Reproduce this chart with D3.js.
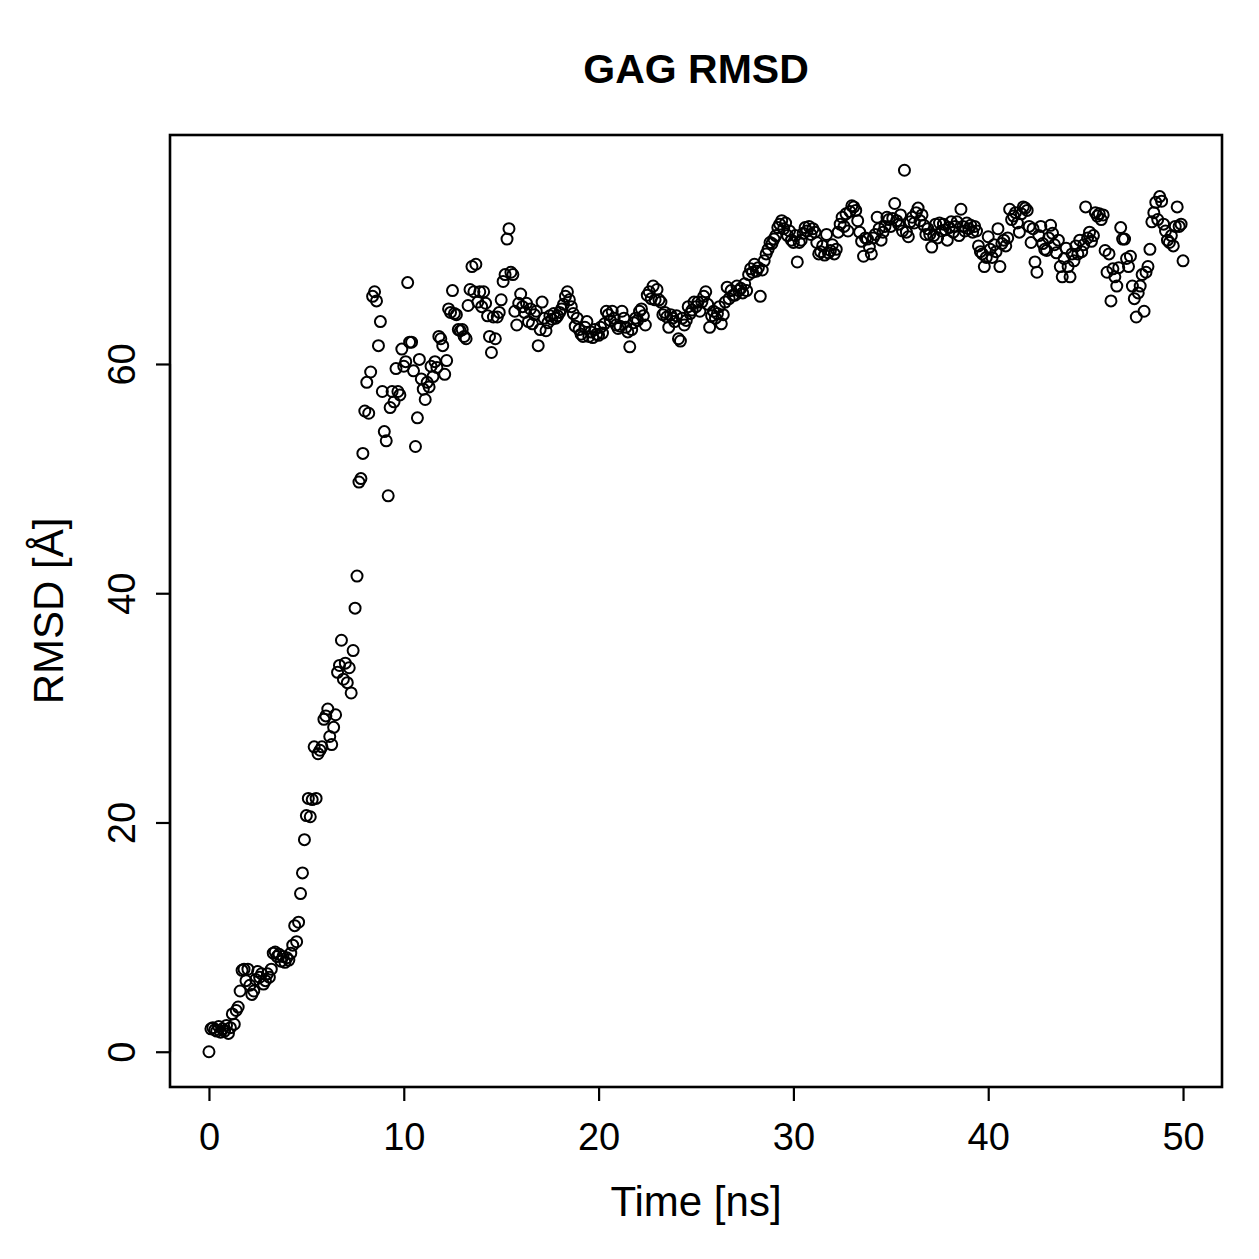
<!DOCTYPE html>
<html>
<head>
<meta charset="utf-8">
<script src="https://cdn.jsdelivr.net/npm/d3@7"></script>
<style>
  html, body { margin: 0; padding: 0; background: #fff; }
  text { font-family: "Liberation Sans", Arial, Helvetica, sans-serif; fill: #000; }
</style>
</head>
<body>
<div id="Area"></div>
<script>
var width = 1259;
var height = 1259;

var chartTitle = "GAG RMSD";
var xLabel = "Time [ns]";
var yLabel = "RMSD [Å]";
var xTicks = [0, 10, 20, 30, 40, 50];
var yTicks = [0, 20, 40, 60];

// one frame every 0.1 ns, first frame at t = 0
var frameStep = 0.1;

// RMSD values, one row per nanosecond (10 frames each)
var rmsd = [
    0.0, 2.0, 2.1, 1.9, 1.8, 2.2, 1.7, 2.0, 1.8, 2.3,
    1.6, 2.1, 3.3, 2.4, 3.6, 3.9, 5.3, 7.1, 7.2, 6.2,
    7.2, 5.8, 5.0, 5.3, 6.3, 7.0, 6.5, 6.8, 5.9, 6.2,
    6.8, 6.5, 7.2, 8.6, 8.7, 8.3, 8.5, 7.9, 8.3, 7.8,
    8.2, 8.0, 8.6, 9.3, 11.0, 9.6, 11.3, 13.8, 15.6, 18.5,
    20.6, 22.1, 20.5, 22.0, 26.6, 22.1, 26.0, 26.3, 26.6, 29.0,
    29.3, 29.9, 27.5, 26.8, 28.3, 29.4, 33.1, 33.7, 35.9, 32.5,
    33.9, 32.2, 33.5, 31.3, 35.0, 38.7, 41.5, 49.7, 50.0, 52.2,
    55.9, 58.4, 55.7, 59.3, 65.9, 66.3, 65.5, 61.6, 63.7, 57.6,
    54.1, 53.3, 48.5, 56.2, 57.6, 56.7, 59.6, 57.6, 57.3, 61.3,
    59.8, 60.2, 67.1, 61.9, 61.9, 59.4, 52.8, 55.3, 60.4, 58.7,
    57.8, 56.9, 58.4, 58.0, 59.8, 58.9, 60.2, 59.7, 62.4, 62.2,
    61.6, 59.1, 60.3, 64.8, 64.5, 66.4, 64.4, 64.3, 63.0, 62.9,
    63.0, 62.4, 62.2, 65.1, 66.5, 68.5, 66.3, 68.7, 65.4, 66.3,
    65.0, 66.3, 65.3, 64.2, 62.4, 61.0, 64.1, 62.2, 64.1, 64.5,
    65.6, 67.2, 67.8, 70.9, 71.8, 68.0, 67.8, 64.6, 63.4, 65.3,
    66.1, 65.0, 64.5, 65.3, 63.7, 64.8, 63.5, 64.3, 64.6, 61.6,
    63.0, 65.4, 64.0, 62.9, 63.6, 64.2, 63.9, 64.4, 64.0, 64.2,
    64.5, 64.8, 65.2, 65.9, 66.3, 65.6, 65.0, 64.4, 63.3, 64.0,
    63.0, 62.6, 62.4, 63.2, 63.7, 62.4, 62.8, 62.3, 63.0, 62.6,
    62.5, 63.2, 62.7, 63.5, 64.6, 64.3, 63.8, 64.6, 64.0, 63.4,
    63.1, 63.3, 64.6, 64.0, 63.2, 62.8, 61.5, 63.0, 63.6, 64.0,
    63.8, 64.6, 64.8, 64.2, 63.4, 66.0, 66.3, 65.7, 66.8, 65.6,
    66.5, 65.6, 65.4, 64.3, 64.5, 64.1, 63.2, 64.3, 64.0, 63.7,
    64.2, 62.2, 62.0, 64.0, 63.4, 63.8, 65.0, 64.4, 64.7, 65.4,
    65.0, 65.4, 64.6, 65.4, 65.9, 66.3, 65.2, 63.2, 64.2, 64.6,
    64.0, 64.4, 65.0, 63.5, 64.3, 65.4, 66.7, 65.7, 66.4, 66.0,
    66.0, 66.8, 66.4, 66.6, 66.2, 67.0, 66.4, 67.8, 68.3, 68.0,
    68.7, 68.1, 68.4, 65.9, 68.2, 69.0, 69.6, 70.0, 70.6, 70.5,
    70.9, 71.2, 71.9, 72.2, 72.5, 71.8, 72.3, 71.2, 71.6, 70.8,
    70.6, 71.2, 68.9, 70.6, 70.8, 71.4, 71.9, 71.6, 72.0, 71.3,
    71.8, 71.5, 70.6, 69.6, 69.8, 70.3, 69.5, 71.3, 69.7, 69.9,
    70.4, 69.6, 70.0, 71.5, 72.2, 72.8, 72.0, 73.1, 71.6, 73.3,
    73.8, 73.7, 73.4, 72.5, 71.5, 70.7, 69.4, 71.0, 70.9, 70.2,
    69.6, 71.0, 71.3, 72.8, 71.8, 70.8, 71.5, 72.0, 72.8, 72.6,
    72.0, 72.7, 74.0, 72.5, 72.2, 73.0, 71.6, 76.9, 71.5, 71.1,
    72.4, 72.8, 72.3, 73.2, 73.6, 72.5, 73.0, 72.1, 71.3, 71.8,
    71.3, 70.2, 71.2, 72.2, 71.0, 72.3, 71.6, 72.2, 71.7, 70.8,
    71.9, 72.4, 71.5, 72.0, 72.4, 71.2, 73.5, 72.0, 71.6, 72.3,
    71.8, 72.1, 71.5, 72.0, 71.6, 70.3, 69.8, 69.6, 68.5, 69.3,
    71.1, 70.0, 69.3, 70.4, 69.8, 71.8, 68.5, 70.5, 70.8, 70.3,
    71.0, 73.5, 72.6, 72.9, 73.2, 72.3, 71.5, 73.1, 73.7, 73.6,
    73.4, 72.0, 70.6, 71.8, 68.9, 68.0, 71.2, 72.0, 70.5, 70.0,
    69.9, 71.0, 72.1, 71.4, 70.4, 69.7, 70.8, 68.5, 67.6, 69.2,
    70.1, 68.5, 67.6, 69.6, 69.0, 70.3, 69.6, 70.8, 69.8, 70.4,
    73.7, 71.0, 71.5, 70.7, 71.2, 73.2, 72.9, 73.1, 72.6, 73.0,
    69.9, 68.0, 69.6, 65.5, 68.3, 67.6, 66.8, 68.4, 71.9, 70.9,
    70.9, 69.2, 68.5, 69.4, 66.8, 65.7, 64.1, 66.2, 66.8, 67.8,
    64.6, 68.0, 68.5, 70.0, 72.4, 73.2, 74.1, 72.6, 74.6, 74.2,
    72.2, 71.6, 70.8, 70.6, 71.2, 70.3, 72.0, 73.7, 72.0, 72.2,
    69.0
];

var data = rmsd.map(function(v, i) { return {t: i * frameStep, rmsd: v}; });

// plot region (R default margins)
var plotLeft = 170, plotRight = 1222, plotTop = 135, plotBottom = 1087;

var svg = d3.select("#Area")
    .append("svg")
    .attr("width", width)
    .attr("height", height);

// R pads the data range by 4% on each side
function padded(ext) {
    var d = (ext[1] - ext[0]) * 0.04;
    return [ext[0] - d, ext[1] + d];
}

var x = d3.scaleLinear()
    .domain(padded(d3.extent(data, function(d) { return d.t; })))
    .range([plotLeft, plotRight]);

var y = d3.scaleLinear()
    .domain(padded(d3.extent(data, function(d) { return d.rmsd; })))
    .range([plotBottom, plotTop]);

// points
svg.append("g")
    .selectAll("circle")
    .data(data)
    .enter()
    .append("circle")
        .attr("cx", function(d) { return x(d.t); })
        .attr("cy", function(d) { return y(d.rmsd); })
        .attr("r", 5.5)
        .style("fill", "none")
        .style("stroke", "#000")
        .style("stroke-width", 2);

// box around the plot
svg.append("rect")
    .attr("x", plotLeft)
    .attr("y", plotTop)
    .attr("width", plotRight - plotLeft)
    .attr("height", plotBottom - plotTop)
    .style("fill", "none")
    .style("stroke", "#000")
    .style("stroke-width", 2.6);

// bottom axis
var xAxis = svg.append("g")
    .attr("transform", "translate(0," + plotBottom + ")")
    .call(d3.axisBottom(x).tickValues(xTicks).tickSize(14).tickPadding(22));

// left axis, labels turned like R's las = 0
var yAxis = svg.append("g")
    .attr("transform", "translate(" + plotLeft + ",0)")
    .call(d3.axisLeft(y).tickValues(yTicks).tickSize(14));

[xAxis, yAxis].forEach(function(a) {
    a.select(".domain")
        .attr("d", a === xAxis
            ? "M" + x(xTicks[0]) + ",0H" + x(xTicks[xTicks.length - 1])
            : "M0," + y(yTicks[0]) + "V" + y(yTicks[yTicks.length - 1]))
        .style("stroke-width", 2.2);
    a.selectAll(".tick line").style("stroke-width", 2.2);
    a.selectAll("text")
        .style("font-size", "38px")
        .style("font-family", "'Liberation Sans', Arial, sans-serif")
        .attr("fill", "#000");
});

xAxis.selectAll(".tick text").attr("dy", "0.71em");

yAxis.selectAll(".tick text")
    .attr("x", null)
    .attr("dy", null)
    .attr("text-anchor", "middle")
    .attr("transform", "translate(-35,0) rotate(-90)");

// title and axis labels
svg.append("text")
    .attr("x", (plotLeft + plotRight) / 2)
    .attr("y", 83)
    .attr("text-anchor", "middle")
    .style("font-size", "41px")
    .style("font-weight", "bold")
    .text(chartTitle);

svg.append("text")
    .attr("x", (plotLeft + plotRight) / 2)
    .attr("y", 1216)
    .attr("text-anchor", "middle")
    .style("font-size", "42px")
    .text(xLabel);

svg.append("text")
    .attr("transform", "translate(63," + (plotTop + plotBottom) / 2 + ") rotate(-90)")
    .attr("text-anchor", "middle")
    .style("font-size", "42px")
    .text(yLabel);
</script>
</body>
</html>
